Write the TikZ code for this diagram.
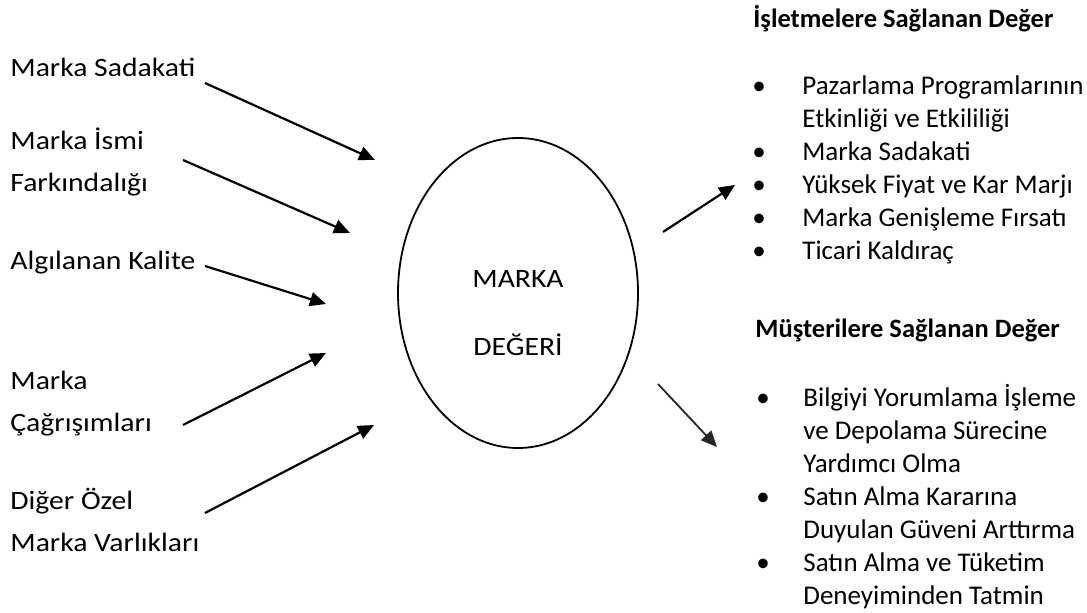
\documentclass[tikz,border=0pt]{standalone}
\usepackage{fontspec}
\setmainfont{Carlito}
\newfontfamily\genis[FakeStretch=1.12]{Carlito}
\usetikzlibrary{shapes.geometric,arrows.meta}

\tikzset{
  lbl/.style={anchor=base west, inner sep=0pt, align=left, font=\genis\fontsize{13.25}{21}\selectfont},
  ok/.style={-{Triangle[length=8pt,width=7pt]}, line width=1.1pt},
  liste/.style={anchor=base west, inner sep=0pt, font=\fontsize{13.5}{16.5}\selectfont},
  baslik/.style={anchor=base west, inner sep=0pt, font=\fontsize{13.25}{16.5}\selectfont\bfseries},
}

\begin{document}
\begin{tikzpicture}[x=0.5pt,y=-0.5pt]
\useasboundingbox (0,0) rectangle (1087,613);

% sol taraf: girdiler
\node[lbl] (sadakat) at (10,77) {Marka Sadakati};
\node[lbl] (isim) at (10,192) {Marka İsmi\\Farkındalığı};
\node[lbl] (kalite) at (10,270) {Algılanan Kalite};
\node[lbl] (cagrisim) at (10,432) {Marka\\Çağrışımları};
\node[lbl] (diger) at (10,552) {Diğer Özel\\Marka Varlıkları};

% orta: marka degeri
\node[draw, ellipse, line width=0.9pt, inner sep=0pt, minimum width=120pt, minimum height=155pt] (deger) at (518,293) {};
\node[align=center, inner sep=0pt, anchor=base, font=\genis\fontsize{13.25}{34}\selectfont] (degeryazi) at (518,356) {MARKA\\DEĞERİ};

% ok uclari
\coordinate (s1) at (205,83);   \coordinate (t1) at (375,160);
\coordinate (s2) at (183,160);  \coordinate (t2) at (350,233);
\coordinate (s3) at (205,266);  \coordinate (t3) at (326,304);
\coordinate (s4) at (183,425);  \coordinate (t4) at (326,353);
\coordinate (s5) at (205,513);  \coordinate (t5) at (374,425);
\coordinate (s6) at (663,232);  \coordinate (t6) at (735,185);
\coordinate (s7) at (658,384);  \coordinate (t7) at (717,447);

\draw[ok] (s1) -- (t1);
\draw[ok] (s2) -- (t2);
\draw[ok] (s3) -- (t3);
\draw[ok] (s4) -- (t4);
\draw[ok] (s5) -- (t5);
\draw[ok] (s6) -- (t6);
\draw[ok, line width=0.9pt, draw=black!85] (s7) -- (t7);

% sag taraf: isletmeler
\node[baslik] (isletme) at (753,28) {İşletmelere Sağlanan Değer};
\node[liste] (isletmeliste) at (752,95) {\begin{tabular}[t]{@{}p{25pt}@{}l@{}}
\textbullet & Pazarlama Programlarının\\
 & Etkinliği ve Etkililiği\\
\textbullet & Marka Sadakati\\
\textbullet & Yüksek Fiyat ve Kar Marjı\\
\textbullet & Marka Genişleme Fırsatı\\
\textbullet & Ticari Kaldıraç
\end{tabular}};

% sag taraf: musteriler
\node[baslik] (musteri) at (755,338) {Müşterilere Sağlanan Değer};
\node[liste] (musteriliste) at (756,407) {\begin{tabular}[t]{@{}p{23.5pt}@{}l@{}}
\textbullet & Bilgiyi Yorumlama İşleme\\
 & ve Depolama Sürecine\\
 & Yardımcı Olma\\
\textbullet & Satın Alma Kararına\\
 & Duyulan Güveni Arttırma\\
\textbullet & Satın Alma ve Tüketim\\
 & Deneyiminden Tatmin
\end{tabular}};
\end{tikzpicture}
\end{document}
